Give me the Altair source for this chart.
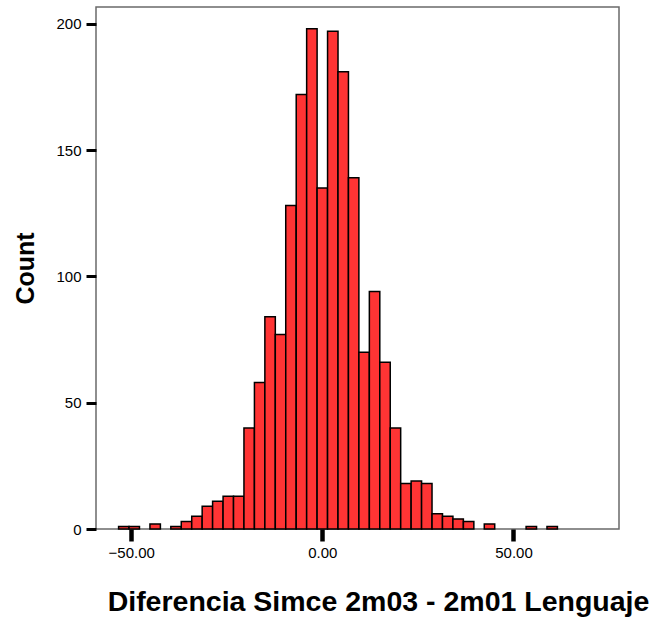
import altair as alt
import pandas as pd

# Histogram bins (lower edge of each bin, common bin width)
bin_width = 2.733
bin_lo = [-53.29, -50.56, -45.09, -39.63, -36.90, -34.16, -31.43, -28.70,
          -25.96, -23.23, -20.50, -17.76, -15.03, -12.30, -9.57, -6.83,
          -4.10, -1.37, 1.37, 4.10, 6.83, 9.57, 12.30, 15.03, 17.76,
          20.50, 23.23, 25.96, 28.70, 31.43, 34.16, 36.90, 42.36, 53.30, 58.76]
counts = [1, 1, 2, 1, 3, 5, 9, 11,
          13, 13, 40, 58, 84, 77, 128, 172,
          198, 135, 197, 181, 139, 70, 94, 66, 40,
          18, 19, 18, 6, 5, 4, 3, 2, 1, 1]

x_ticks = [-50, 0, 50]
y_ticks = [0, 50, 100, 150, 200]

df = pd.DataFrame({
    "lo": bin_lo,
    "hi": [v + bin_width for v in bin_lo],
    "count": counts,
})

FONT = "Liberation Sans"

chart = alt.Chart(df).mark_rect(
    fill="#ff3434", stroke="#000000", strokeWidth=1.5
).encode(
    x=alt.X("lo:Q",
            scale=alt.Scale(domain=[-59.2, 77.6], nice=False, zero=False),
            axis=alt.Axis(values=x_ticks, format=".2f", grid=False, domain=False,
                          tickSize=12, tickWidth=4.5, tickColor="#000000",
                          labelFontSize=15, labelFont=FONT, labelColor="#000000",
                          labelPadding=4,
                          title="Diferencia Simce 2m03 - 2m01 Lenguaje",
                          titleFont=FONT, titleFontSize=28.5, titleFontWeight="bold",
                          titleColor="#000000", titleX=282, titleY=72,
                          titleBaseline="middle", titleAlign="center")),
    x2="hi:Q",
    y=alt.Y("count:Q",
            scale=alt.Scale(domain=[0, 206.6], nice=False),
            axis=alt.Axis(values=y_ticks, grid=False, domain=False,
                          tickSize=10, tickWidth=3, tickColor="#000000",
                          labelFontSize=15, labelFont=FONT, labelColor="#000000",
                          labelPadding=5,
                          title="Count", titleFont=FONT, titleFontSize=25,
                          titleFontWeight="bold", titleColor="#000000",
                          titleAngle=-90, titleX=-71, titleY=261,
                          titleBaseline="middle", titleAlign="center")),
    y2=alt.datum(0),
).properties(
    width=523, height=522,
    background="#ffffff",
    padding={"left": 96, "top": 7, "right": 36, "bottom": 89},
    autosize=alt.AutoSizeParams(type="none"),
).configure_view(
    stroke="#6a6a6a", strokeWidth=1.5
)

chart.save("out.html", embed_options={"renderer": "svg", "actions": False})
